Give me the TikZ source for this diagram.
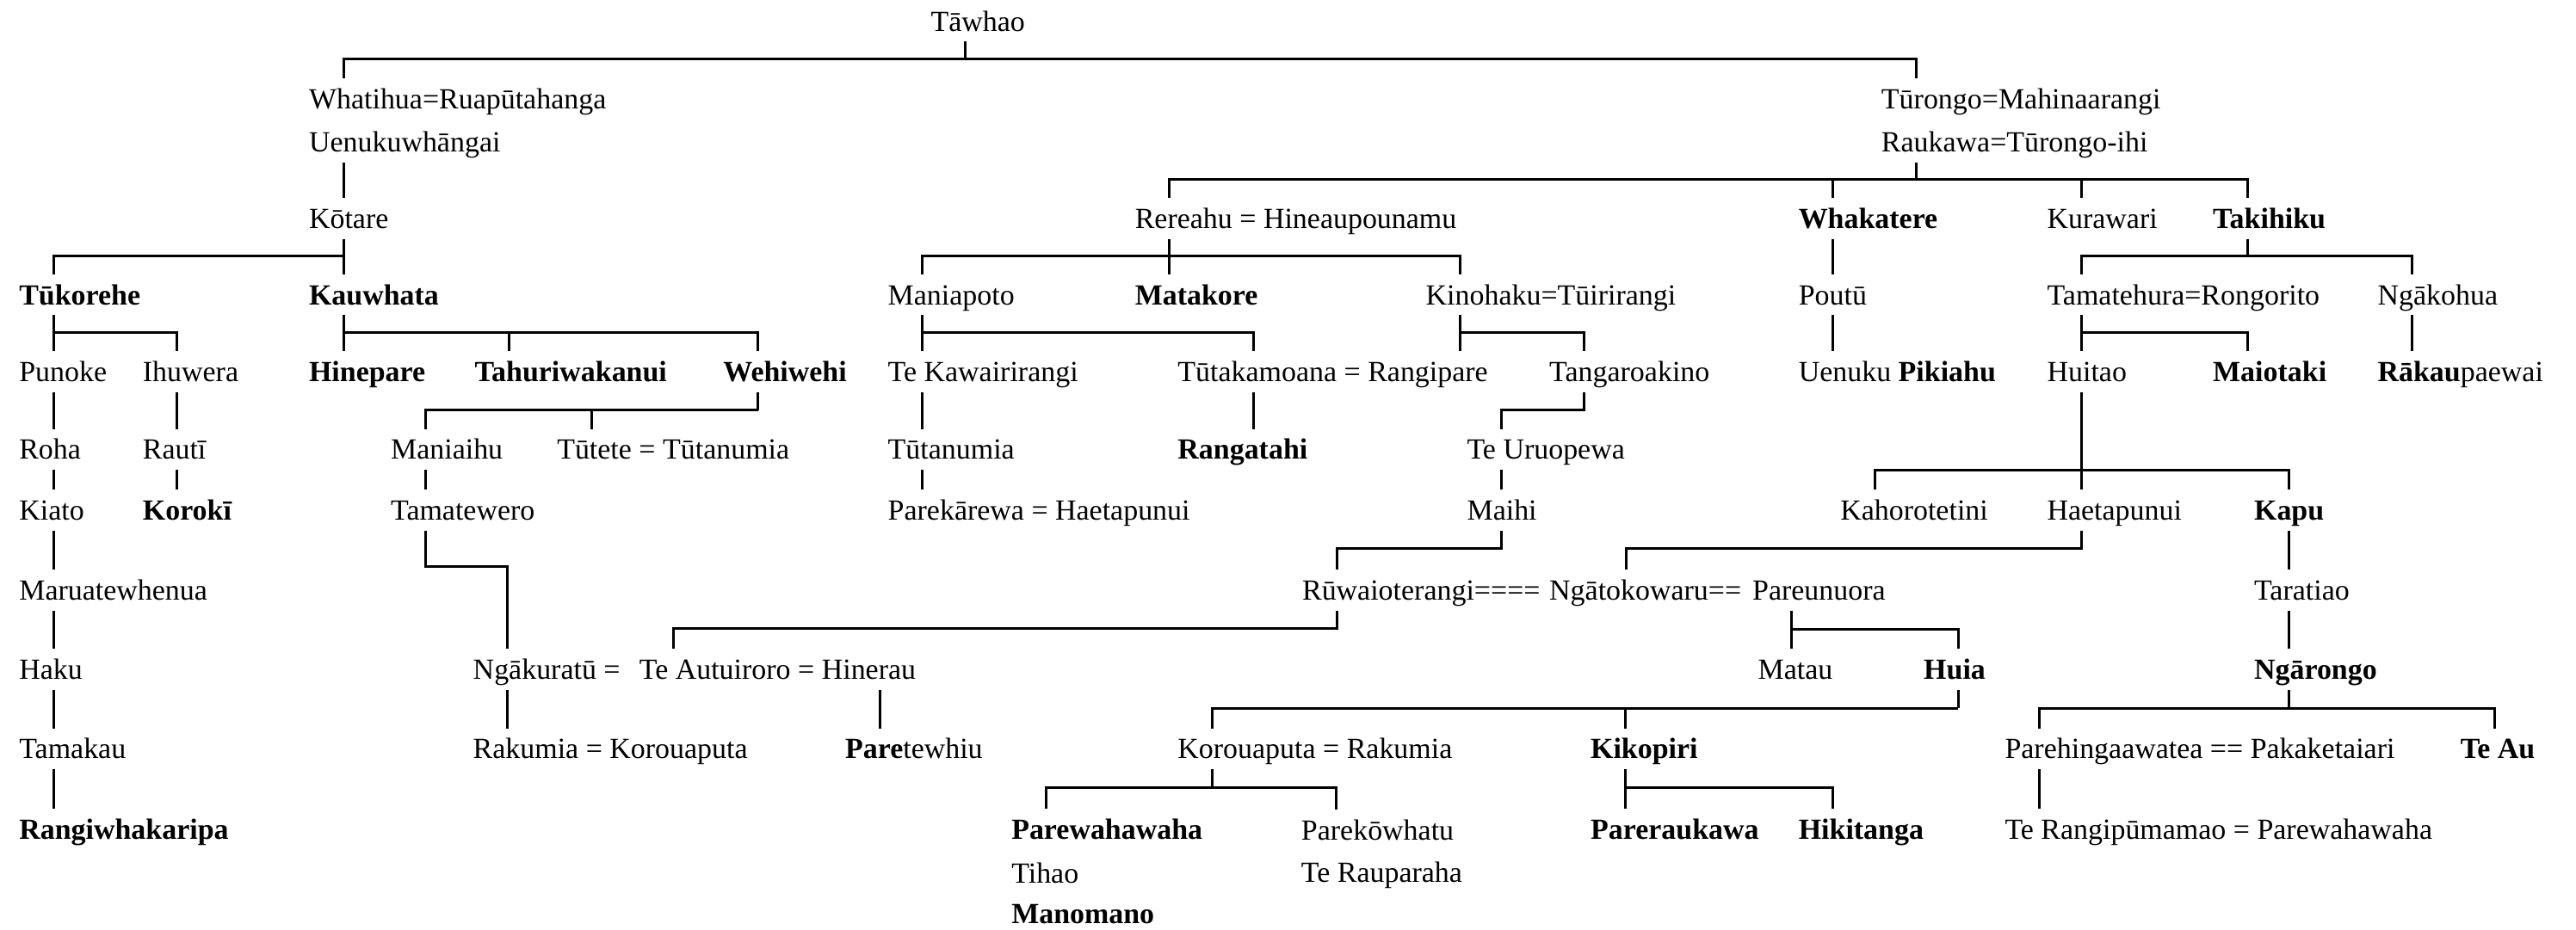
\documentclass[tikz,border=0pt]{standalone}
\usepackage{fontspec}
\setmainfont{Liberation Serif}

\tikzset{
    pn/.style={anchor=base west, inner sep=0pt, outer xsep=0pt, outer ysep=3.55pt,
        text height=6.55pt, text depth=0pt, font=\fontsize{9.7}{11}\selectfont},
    pb/.style={pn, font=\fontsize{9.7}{11}\selectfont\bfseries},
    stemx/.style={xshift=11.45pt}
}

\begin{document}
\begin{tikzpicture}[x=0.5455pt, y=-0.5455pt, line width=0.85pt]
    \useasboundingbox (0,0) rectangle (1568,566.3);

    % generation rows
    \node[pn] (tawhao) at (566.6,18.9) {Tāwhao};
    \node[pn] (whatihua) at (188.1,66.4) {Whatihua=Ruapūtahanga};
    \node[pn] (turongo) at (1145.2,66.4) {Tūrongo=Mahinaarangi};
    \node[pn] (uenuku) at (188.1,92.5) {Uenukuwhāngai};
    \node[pn] (raukawa) at (1145.2,92.5) {Raukawa=Tūrongo-ihi};

    \node[pn] (kotare) at (188.1,139.2) {Kōtare};
    \node[pn] (rereahu) at (690.9,139.2) {Rereahu = Hineaupounamu};
    \node[pb] (whakatere) at (1094.8,139.2) {Whakatere};
    \node[pn] (kurawari) at (1246.1,139.2) {Kurawari};
    \node[pb] (takihiku) at (1347.0,139.2) {Takihiku};

    \node[pb] (tukorehe) at (11.7,185.5) {Tūkorehe};
    \node[pb] (kauwhata) at (188.1,185.5) {Kauwhata};
    \node[pn] (maniapoto) at (540.5,185.5) {Maniapoto};
    \node[pb] (matakore) at (690.9,185.5) {Matakore};
    \node[pn] (kinohaku) at (867.9,185.5) {Kinohaku=Tūirirangi};
    \node[pn] (poutu) at (1094.8,185.5) {Poutū};
    \node[pn] (tamatehura) at (1246.1,185.5) {Tamatehura=Rongorito};
    \node[pn] (ngakohua) at (1447.3,185.5) {Ngākohua};

    \node[pn] (punoke) at (11.7,232.5) {Punoke};
    \node[pn] (ihuwera) at (86.9,232.5) {Ihuwera};
    \node[pb] (hinepare) at (188.1,232.5) {Hinepare};
    \node[pb] (tahuri) at (289.0,232.5) {Tahuriwakanui};
    \node[pb] (wehiwehi) at (440.3,232.5) {Wehiwehi};
    \node[pn] (tekawai) at (540.5,232.5) {Te Kawairirangi};
    \node[pn] (tutakamoana) at (716.9,232.5) {Tūtakamoana = Rangipare};
    \node[pn] (tangaroakino) at (943.1,232.5) {Tangaroakino};
    \node[pn] (pikiahu) at (1094.8,232.5) {Uenuku \textbf{Pikiahu}};
    \node[pn] (huitao) at (1246.1,232.5) {Huitao};
    \node[pb] (maiotaki) at (1347.0,232.5) {Maiotaki};
    \node[pn] (rakau) at (1447.3,232.5) {\textbf{Rākau}paewai};

    \node[pn] (roha) at (11.7,279.7) {Roha};
    \node[pn] (rauti) at (86.9,279.7) {Rautī};
    \node[pn] (maniaihu) at (237.9,279.7) {Maniaihu};
    \node[pn] (tutete) at (339.1,279.7) {Tūtete = Tūtanumia};
    \node[pn] (tutanumia) at (540.5,279.7) {Tūtanumia};
    \node[pb] (rangatahi) at (716.9,279.7) {Rangatahi};
    \node[pn] (uruopewa) at (893.0,279.7) {Te Uruopewa};

    \node[pn] (kiato) at (11.7,316.5) {Kiato};
    \node[pb] (koroki) at (86.9,316.5) {Korokī};
    \node[pn] (tamatewero) at (237.9,316.5) {Tamatewero};
    \node[pn] (parekarewa) at (540.5,316.5) {Parekārewa = Haetapunui};
    \node[pn] (maihi) at (893.0,316.5) {Maihi};
    \node[pn] (kahoro) at (1120.2,316.5) {Kahorotetini};
    \node[pn] (haetapunui) at (1246.1,316.5) {Haetapunui};
    \node[pb] (kapu) at (1372.1,316.5) {Kapu};

    \node[pn] (marua) at (11.7,365.5) {Maruatewhenua};
    \node[pn] (ruwai) at (792.7,365.5) {Rūwaioterangi====};
    \node[pn] (ngatoko) at (943.1,365.5) {Ngātokowaru==};
    \node[pn] (pareunuora) at (1066.7,365.5) {Pareunuora};
    \node[pn] (taratiao) at (1372.1,365.5) {Taratiao};

    \node[pn] (haku) at (11.7,413.5) {Haku};
    \node[pn] (ngakuratu) at (288.0,413.5) {Ngākuratū =};
    \node[pn] (autuiroro) at (389.2,413.5) {Te Autuiroro = Hinerau};
    \node[pn] (matau) at (1070.1,413.5) {Matau};
    \node[pb] (huia) at (1171.0,413.5) {Huia};
    \node[pb] (ngarongo) at (1372.1,413.5) {Ngārongo};

    \node[pn] (tamakau) at (11.7,462) {Tamakau};
    \node[pn] (rakumia) at (288.0,462) {Rakumia = Korouaputa};
    \node[pn] (paretewhiu) at (514.5,462) {\textbf{Pare}tewhiu};
    \node[pn] (korouaputa) at (716.9,462) {Korouaputa = Rakumia};
    \node[pb] (kikopiri) at (968.2,462) {Kikopiri};
    \node[pn] (parehinga) at (1220.4,462) {Parehingaawatea == Pakaketaiari};
    \node[pb] (teau) at (1497.7,462) {Te Au};

    \node[pb] (rangiwhaka) at (11.7,510.8) {Rangiwhakaripa};
    \node[pb] (parewaha) at (615.7,510.8) {Parewahawaha};
    \node[pn] (parekowhatu) at (792.1,511.5) {Parekōwhatu};
    \node[pb] (pareraukawa) at (968.2,510.8) {Pareraukawa};
    \node[pb] (hikitanga) at (1094.8,510.8) {Hikitanga};
    \node[pn] (terangi) at (1220.4,510.8) {Te Rangipūmamao = Parewahawaha};

    \node[pn] (tihao) at (615.7,538) {Tihao};
    \node[pn] (terauparaha) at (792.1,537) {Te Rauparaha};
    \node[pb] (manomano) at (615.7,562.3) {Manomano};

    % descent lines
    \draw ([stemx]tawhao.south west) -- ++(0,10.7) coordinate (b0);
    \draw ([stemx]whatihua.north west) |- (b0) -| ([stemx]turongo.north west);
    \draw ([stemx]uenuku.south west) -- ([stemx]kotare.north west);

    \draw ([stemx]kotare.south west) -- ++(0,10.2) coordinate (b1);
    \draw ([stemx]tukorehe.north west) |- (b1) -| ([stemx]kauwhata.north west);

    \draw ([stemx]raukawa.south west) -- ++(0,10.1) coordinate (b2);
    \draw ([stemx]rereahu.north west) |- (b2) -| ([stemx]takihiku.north west);
    \draw ([stemx]whakatere.north west) -- ([stemx]whakatere.north west |- b2);
    \draw ([stemx]kurawari.north west) -- ([stemx]kurawari.north west |- b2);

    \draw ([stemx]rereahu.south west) -- ++(0,10.2) coordinate (b3) -- ([stemx]matakore.north west);
    \draw ([stemx]maniapoto.north west) |- (b3) -| ([stemx]kinohaku.north west);

    \draw ([stemx]whakatere.south west) -- ([stemx]poutu.north west);
    \draw ([stemx]poutu.south west) -- ([stemx]pikiahu.north west);

    \draw ([stemx]takihiku.south west) -- ++(0,10.2) coordinate (b4);
    \draw ([stemx]tamatehura.north west) |- (b4) -| ([stemx]ngakohua.north west);

    % Tukorehe line
    \draw ([stemx]tukorehe.south west) -- ++(0,10.5) coordinate (b5) -- ([stemx]punoke.north west);
    \draw (b5) -| ([stemx]ihuwera.north west);
    \draw ([stemx]punoke.south west) -- ([stemx]roha.north west);
    \draw ([stemx]roha.south west) -- ([stemx]kiato.north west);
    \draw ([stemx]kiato.south west) -- ([stemx]marua.north west);
    \draw ([stemx]marua.south west) -- ([stemx]haku.north west);
    \draw ([stemx]haku.south west) -- ([stemx]tamakau.north west);
    \draw ([stemx]tamakau.south west) -- ([stemx]rangiwhaka.north west);
    \draw ([stemx]ihuwera.south west) -- ([stemx]rauti.north west);
    \draw ([stemx]rauti.south west) -- ([stemx]koroki.north west);

    % Kauwhata line
    \draw ([stemx]kauwhata.south west) -- ++(0,10.5) coordinate (b6) -- ([stemx]hinepare.north west);
    \draw (b6) -| ([stemx]wehiwehi.north west);
    \draw ([stemx]tahuri.north west) -- ([stemx]tahuri.north west |- b6);
    \draw ([stemx]wehiwehi.south west) -- ++(0,10.7) coordinate (b7);
    \draw ([stemx]maniaihu.north west) |- (b7);
    \draw ([stemx]tutete.north west) -- ([stemx]tutete.north west |- b7);
    \draw ([stemx]maniaihu.south west) -- ([stemx]tamatewero.north west);
    \draw ([stemx]tamatewero.south west) -- ++(0,21.8) -| ([stemx]ngakuratu.north west);
    \draw ([stemx]ngakuratu.south west) -- ([stemx]rakumia.north west);
    \draw ([stemx]paretewhiu.north west) -- ([stemx]paretewhiu.north west |- autuiroro.south);

    % Maniapoto and Kinohaku lines
    \draw ([stemx]maniapoto.south west) -- ++(0,10.5) coordinate (b8) -- ([stemx]tekawai.north west);
    \draw (b8) -| ([xshift=25.15pt]tutakamoana.north west);
    \draw ([stemx]kinohaku.south west) -- ++(0,10.5) coordinate (b9) -- (b9 |- tutakamoana.north);
    \draw (b9) -| ([stemx]tangaroakino.north west);
    \draw ([stemx]tekawai.south west) -- ([stemx]tutanumia.north west);
    \draw ([stemx]tutanumia.south west) -- ([stemx]parekarewa.north west);
    \draw ([xshift=25.15pt]tutakamoana.south west) -- ([xshift=25.15pt]rangatahi.north west);
    \draw ([stemx]tangaroakino.south west) -- ++(0,10.7) -| ([stemx]uruopewa.north west);
    \draw ([stemx]uruopewa.south west) -- ([stemx]maihi.north west);
    \draw ([stemx]maihi.south west) -- ++(0,11) -| ([stemx]ruwai.north west);

    % Tamatehura line
    \draw ([stemx]tamatehura.south west) -- ++(0,10.5) coordinate (b10) -- ([stemx]huitao.north west);
    \draw (b10) -| ([stemx]maiotaki.north west);
    \draw ([stemx]ngakohua.south west) -- ([stemx]rakau.north west);
    \draw ([stemx]huitao.south west) -- ++(0,47.4) coordinate (b11) -- ([stemx]haetapunui.north west);
    \draw ([stemx]kahoro.north west) |- (b11) -| ([stemx]kapu.north west);
    \draw ([stemx]haetapunui.south west) -- ++(0,11) -| ([xshift=25.5pt]ngatoko.north west);
    \draw ([stemx]kapu.south west) -- ([stemx]taratiao.north west);
    \draw ([stemx]taratiao.south west) -- ([stemx]ngarongo.north west);

    % Ruwaioterangi and Pareunuora
    \draw ([stemx]ruwai.south west) -- ++(0,10.8) -| ([stemx]autuiroro.north west);
    \draw ([xshift=13.1pt]pareunuora.south west) -- ++(0,11.3) coordinate (b12) -- (b12 |- matau.north);
    \draw (b12) -| ([stemx]huia.north west);
    \draw ([stemx]huia.south west) -- ++(0,11.3) coordinate (b13);
    \draw ([stemx]korouaputa.north west) |- (b13);
    \draw ([stemx]kikopiri.north west) -- ([stemx]kikopiri.north west |- b13);
    \draw ([stemx]korouaputa.south west) -- ++(0,11.3) coordinate (b14);
    \draw ([stemx]parewaha.north west) |- (b14) -| ([stemx]parekowhatu.north west);
    \draw ([stemx]kikopiri.south west) -- ++(0,11.3) coordinate (b15) -- ([stemx]pareraukawa.north west);
    \draw (b15) -| ([stemx]hikitanga.north west);

    % Ngarongo line
    \draw ([stemx]ngarongo.south west) -- ++(0,11.3) coordinate (b16);
    \draw ([stemx]parehinga.north west) |- (b16) -| ([stemx]teau.north west);
    \draw ([stemx]parehinga.south west) -- ([stemx]terangi.north west);
\end{tikzpicture}
\end{document}
